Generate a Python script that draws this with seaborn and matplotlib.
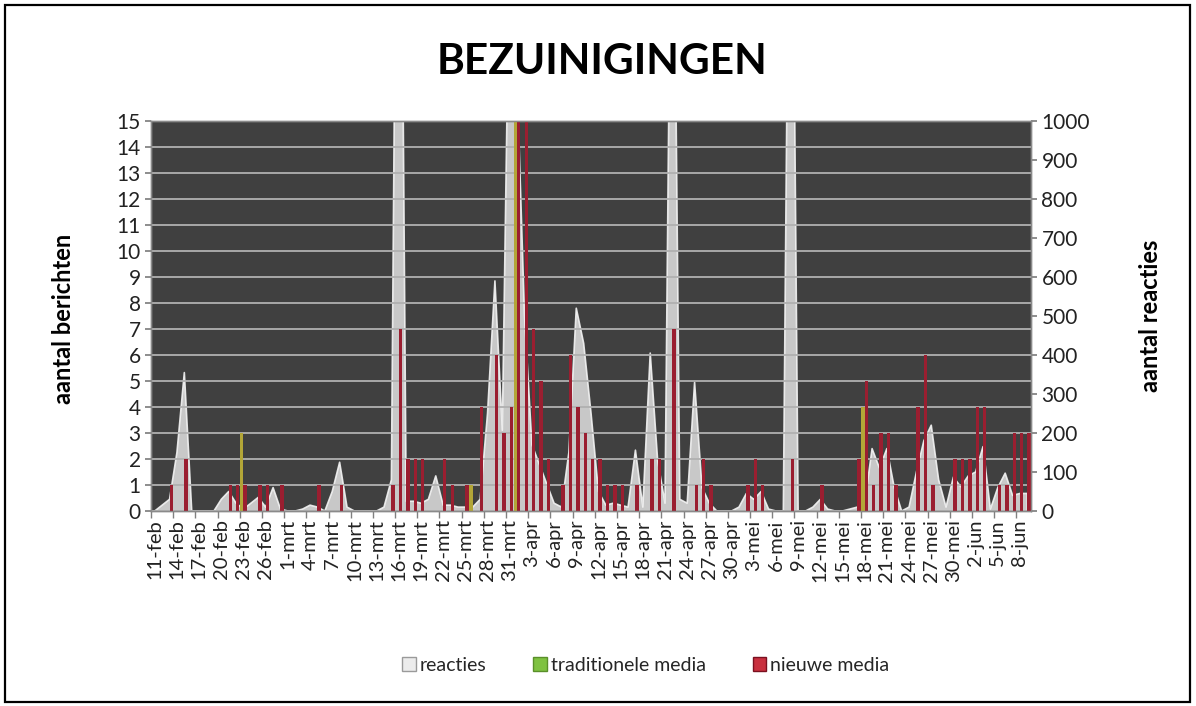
import numpy as np
import pandas as pd
import matplotlib
matplotlib.use("Agg")
import matplotlib.pyplot as plt
import seaborn as sns
from matplotlib.patches import Patch, Rectangle

# ---------------- data ----------------
start_date = "2010-02-11"
n_days = 119
maanden = {1: "jan", 2: "feb", 3: "mrt", 4: "apr", 5: "mei", 6: "jun"}
dagen = [f"{d.day}-{maanden[d.month]}" for d in pd.date_range(start_date, periods=n_days)]

reacties = [
    0, 15, 30, 150, 355, 0, 0, 0, 0, 30,
    50, 20, 5, 20, 35, 10, 60, 5, 0, 0,
    5, 15, 10, 0, 50, 125, 10, 0, 0, 0,
    0, 10, 80, 2500, 25, 25, 20, 30, 90, 15,
    15, 10, 10, 10, 30, 250, 590, 207, 1500, 1100,
    500, 170, 120, 70, 20, 10, 150, 520, 430, 250,
    50, 15, 20, 15, 10, 156, 10, 405, 130, 20,
    2000, 30, 20, 330, 60, 20, 0, 0, 0, 10,
    45, 30, 50, 5, 0, 0, 2200, 0, 0, 10,
    30, 5, 0, 0, 5, 10, 20, 160, 110, 160,
    60, 0, 10, 100, 180, 220, 80, 10, 87, 62,
    90, 100, 165, 5, 60, 97, 40, 45, 45,
]

traditionele_media = [0] * n_days
for dag, waarde in {12: 3, 43: 1, 49: 16, 96: 4}.items():
    traditionele_media[dag] = waarde

nieuwe_media = [
    0, 0, 1, 0, 2, 0, 0, 0, 0, 0,
    1, 1, 1, 0, 1, 1, 0, 1, 0, 0,
    0, 0, 1, 0, 0, 1, 0, 0, 0, 0,
    0, 0, 1, 7, 2, 2, 2, 0, 0, 2,
    1, 0, 1, 0, 4, 0, 6, 3, 4, 16,
    16, 7, 5, 2, 0, 1, 6, 4, 3, 2,
    2, 1, 1, 1, 0, 1, 0, 2, 2, 0,
    7, 0, 0, 1, 2, 1, 0, 0, 0, 0,
    1, 2, 1, 0, 0, 0, 2, 0, 0, 0,
    1, 0, 0, 0, 0, 2, 5, 1, 3, 3,
    1, 0, 0, 4, 6, 1, 0, 0, 2, 2,
    2, 4, 4, 0, 1, 1, 3, 3, 3,
]

series_names = ["reacties", "traditionele media", "nieuwe media"]
kleuren = {"reacties": "#d8d8d8", "traditionele media": "#b3a637", "nieuwe media": "#9a1e30"}

df = pd.DataFrame({
    "dag": dagen * 2,
    "aantal": traditionele_media + nieuwe_media,
    "type": ["traditionele media"] * n_days + ["nieuwe media"] * n_days,
})

# ---------------- style ----------------
sns.set_theme(style="white")
plt.rcParams["font.family"] = ["Lato", "DejaVu Sans"]

fig = plt.figure(figsize=(11.96, 7.06), dpi=100)
fig.patch.set_facecolor("white")
ax = fig.add_axes([0.1263, 0.2762, 0.7358, 0.5524])
ax2 = ax.twinx()
ax.set_zorder(ax2.get_zorder() + 1)
ax.patch.set_visible(False)
ax2.patch.set_visible(True)
ax2.patch.set_facecolor("#404040")

# area (secondary axis)
x_pos = np.arange(n_days)
ax2.fill_between(x_pos, reacties, color=kleuren["reacties"], alpha=0.9,
                 edgecolor="#f4f4f4", linewidth=1.2)
ax2.set_ylim(0, 1000)
ax2.set_yticks(range(0, 1001, 100))

# bars (primary axis)
sns.barplot(data=df, x="dag", y="aantal", hue="type", order=dagen,
            hue_order=["traditionele media", "nieuwe media"],
            palette=[kleuren["traditionele media"], kleuren["nieuwe media"]],
            saturation=1, width=0.9, errorbar=None, legend=False, ax=ax,
            linewidth=0)
ax.set_ylim(0, 15)
ax.set_yticks(range(0, 16))
ax.set_xlim(-0.5, n_days - 0.5)

ax.yaxis.grid(True, color="#b0b0b0", linewidth=1.3)
ax.xaxis.grid(False)
ax.set_axisbelow(True)

ax.set_xticks(range(0, n_days, 3))
ax.set_xticklabels(dagen[::3], rotation=90, fontsize=14.5, color="#222222")
ax.set_xticks(np.arange(-0.5, n_days, 3), minor=True)
ax.tick_params(axis="x", which="major", length=0, pad=6)
ax.tick_params(axis="x", which="minor", length=5, color="#808080", direction="out", bottom=True)
ax.tick_params(axis="y", labelsize=15, length=4, color="#808080", left=True, labelcolor="#222222")
ax2.tick_params(axis="y", labelsize=15, length=4, color="#808080", right=True, labelcolor="#222222")
ax.set_xlabel("")
ax.set_ylabel("")
ax2.set_ylabel("")

for a in (ax, ax2):
    for s in a.spines.values():
        s.set_color("#8a8a8a")
        s.set_linewidth(1)

# texts
fig.text(0.503, 0.912, "BEZUINIGINGEN", ha="center", va="center",
         fontsize=30.5, fontweight="bold", color="black")
fig.text(0.053, 0.549, "aantal berichten", rotation=90, ha="center", va="center",
         fontsize=17, fontweight="bold", color="black")
fig.text(0.962, 0.553, "aantal reacties", rotation=90, ha="center", va="center",
         fontsize=17, fontweight="bold", color="black")

handles = [
    Patch(facecolor="#ececec", edgecolor="#9a9a9a", label=series_names[0]),
    Patch(facecolor="#7fc241", edgecolor="#5a8f2a", label=series_names[1]),
    Patch(facecolor="#c9303f", edgecolor="#7a1020", label=series_names[2]),
]
fig.legend(handles=handles, loc="center", bbox_to_anchor=(0.54, 0.058), ncol=3,
           frameon=False, fontsize=14, handlelength=0.7, handleheight=0.7,
           handletextpad=0.2, columnspacing=2.4)

fig.add_artist(Rectangle((0.004, 0.005), 0.991, 0.988, transform=fig.transFigure,
                         fill=False, edgecolor="black", linewidth=1.6))

fig.savefig("out.png", dpi=100, facecolor="white")
